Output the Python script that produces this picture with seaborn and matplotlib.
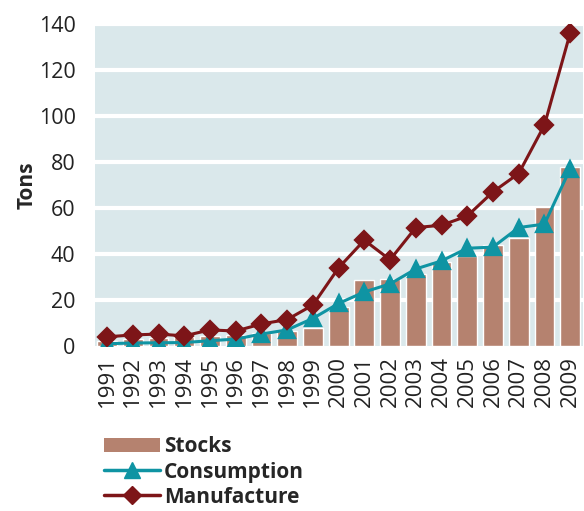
import matplotlib
matplotlib.use("Agg")
import matplotlib.pyplot as plt
import seaborn as sns
import pandas as pd
from matplotlib.patches import Patch
from matplotlib.lines import Line2D

# values (tons)
years = [str(y) for y in range(1991, 2010)]
stocks = [2, 3, 3.5, 4, 4.5, 5, 5.7, 6.5, 8, 17, 28.5, 29, 31.5, 36.5, 39, 44, 47, 60.5, 78]
consumption = [1, 1.3, 1.4, 1.5, 2.3, 3, 5.2, 7, 12, 18.5, 23.5, 27, 33.5, 37, 42.5, 43, 51.5, 53, 77]
manufacture = [4, 4.8, 5.2, 4.4, 7, 6.5, 9.6, 11.5, 17.8, 34, 46, 37.5, 51.5, 52.5, 56.5, 67, 75, 96, 136]

df = pd.DataFrame({"Year": years, "Stocks": stocks,
                   "Consumption": consumption, "Manufacture": manufacture})

BAR = "#b5826f"
TEAL = "#0f94a3"
RED = "#7d1518"

sns.set_theme(style="white")
plt.rcParams["font.family"] = ["Open Sans", "DejaVu Sans"]

fig = plt.figure(figsize=(5.84, 5.11), dpi=100)
ax = fig.add_axes([95 / 584, 1 - 346 / 511, 488 / 584, 322 / 511])
ax.set_facecolor("#dae8eb")

sns.barplot(data=df, x="Year", y="Stocks", color=BAR, width=0.77,
            saturation=1, ax=ax, zorder=2)
sns.pointplot(data=df, x="Year", y="Consumption", color=TEAL, markers="^",
              markersize=11, linewidth=2.2, errorbar=None, ax=ax)
sns.pointplot(data=df, x="Year", y="Manufacture", color=RED, markers="D",
              markersize=9, linewidth=2.2, errorbar=None, ax=ax)

ax.set_ylim(0, 140)
ax.set_xlim(-0.47, 18.5)
ax.set_yticks(range(0, 141, 20))
for y in range(20, 141, 20):
    ax.axhline(y, color="white", lw=3, zorder=1)
for s in ax.spines.values():
    s.set_visible(False)

ax.tick_params(axis="y", length=0, labelsize=15.5, pad=14, colors="#222222")
ax.tick_params(axis="x", length=0, labelsize=16, pad=7, colors="#222222")
plt.setp(ax.get_xticklabels(), rotation=90)
ax.set_xlabel("")
ax.set_ylabel("Tons", fontsize=15, fontweight="bold", labelpad=1)

handles = [
    Patch(facecolor=BAR, edgecolor="none"),
    Line2D([], [], color=TEAL, lw=2.5, marker="^", markersize=12),
    Line2D([], [], color=RED, lw=2.5, marker="D", markersize=9),
]
fig.legend(handles, ["Stocks", "Consumption", "Manufacture"],
           loc="lower left", bbox_to_anchor=(96 / 584, -0.01), frameon=False,
           prop={"weight": "bold", "size": 15}, handlelength=2.65,
           handletextpad=0.2, labelspacing=0.2, borderaxespad=0)

fig.savefig("out.png", dpi=100)
